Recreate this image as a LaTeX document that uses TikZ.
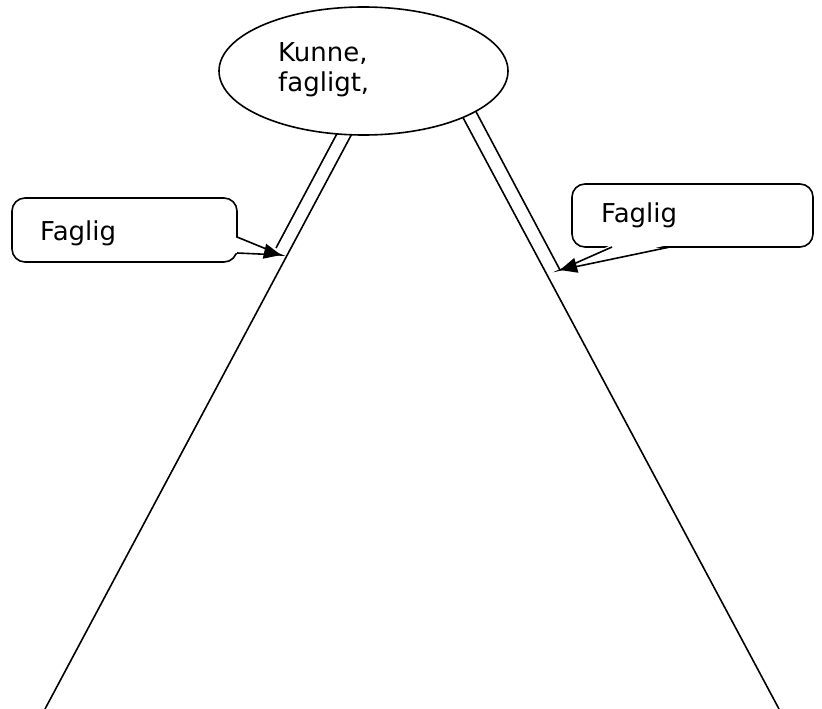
\documentclass[tikz,border=0pt]{standalone}
\usepackage{fontspec}
\setmainfont{DejaVu Sans}
\usetikzlibrary{arrows.meta,shapes.geometric,calc}
\begin{document}
\begin{tikzpicture}[x=1pt,y=-1pt,
  lbl/.style={anchor=base west, inner sep=0pt, font=\fontsize{26}{30}\selectfont},
  conn/.style={draw=black, line width=1.6pt},
  box/.style={draw=black, fill=white, line width=1.6pt, rounded corners=13pt},
  wedge/.style={draw=black, line width=1.6pt, line join=miter},
  tipstyle/.style={line width=1.6pt, -{Triangle[length=17pt,width=15pt]}}]
\useasboundingbox (0,0) rectangle (822,709);
% connectors from the ellipse
\coordinate (L1a) at (355,128); \coordinate (L1b) at (45,709);
\coordinate (L2a) at (340,128); \coordinate (L2b) at (276,248);
\coordinate (R1a) at (460,112); \coordinate (R1b) at (779,709);
\coordinate (R2a) at (473,106); \coordinate (R2b) at (560,270);
\draw[conn] (L1a) -- (L1b);
\draw[conn] (L2a) -- (L2b);
\draw[conn] (R1a) -- (R1b);
\draw[conn] (R2a) -- (R2b);
% ellipse
\node[ellipse, draw, fill=white, line width=1.6pt, minimum width=289pt, minimum height=128pt, inner sep=0pt] (ell) at (363.5,71) {};
\node[lbl] (k1) at (278,62) {Kunne,};
\node[lbl] (k2) at (278,92) {fagligt,};
% left callout
\draw[box] (12,198) rectangle (237,262);
\coordinate (Lw1) at (237,237); \coordinate (Lw2) at (237,253);
\coordinate (Lt) at (281,255); \coordinate (Lm) at (237,245);
\fill[white] (234.5,237) -- (Lt) -- (234.5,253) -- cycle;
\draw[wedge] (Lw1) -- (Lt) -- (Lw2);
\draw[tipstyle] ($(Lm)!0.85!(Lt)$) -- (Lt);
\node[lbl] (f1) at (40,240) {Faglig};
% right callout
\draw[box] (572,184) rectangle (813,247);
\coordinate (Rw1) at (612,247); \coordinate (Rw2) at (670,247);
\coordinate (Rt) at (560,270); \coordinate (Rm) at (641,247);
\fill[white] (612,244.5) -- (Rt) -- (670,244.5) -- cycle;
\draw[wedge] (Rw1) -- (Rt) -- (Rw2);
\draw[tipstyle] ($(Rm)!0.85!(Rt)$) -- (Rt);
\node[lbl] (f2) at (601,222) {Faglig};
\end{tikzpicture}
\end{document}
